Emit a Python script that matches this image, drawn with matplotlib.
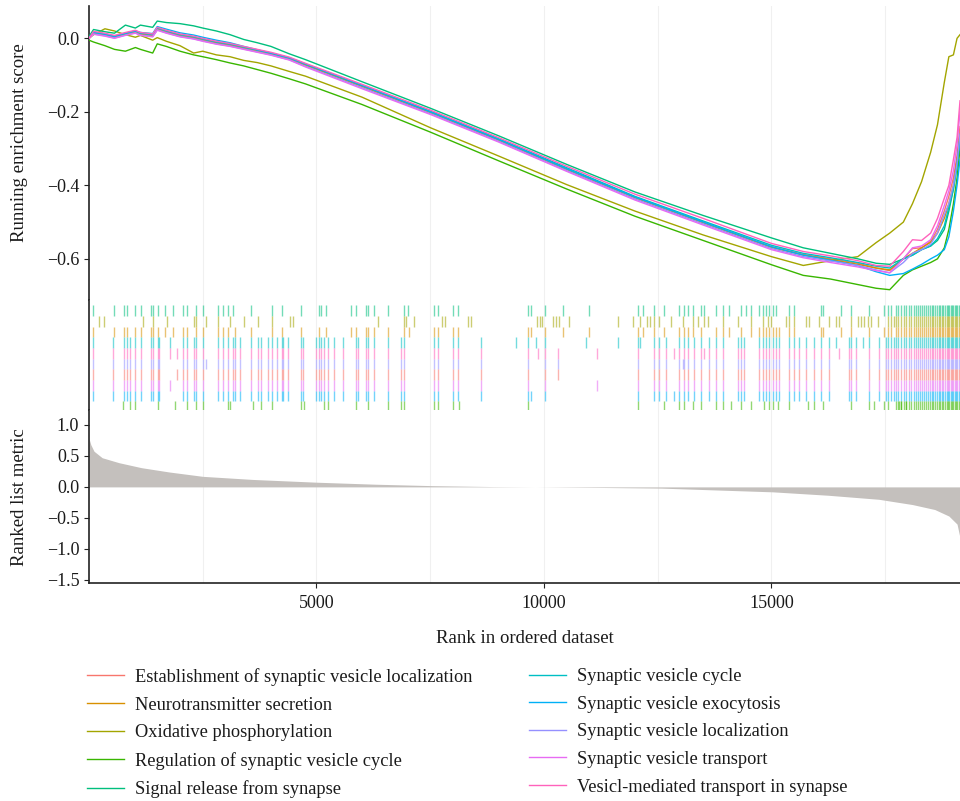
import matplotlib
matplotlib.use("Agg")
import matplotlib.pyplot as plt
from matplotlib.lines import Line2D

plt.rcParams["font.family"] = ["Liberation Serif", "DejaVu Serif"]

# gene sets (legend order) and ggplot hue colours
SET_NAMES = [
    "Establishment of synaptic vesicle localization",
    "Neurotransmitter secretion",
    "Oxidative phosphorylation",
    "Regulation of synaptic vesicle cycle",
    "Signal release from synapse",
    "Synaptic vesicle cycle",
    "Synaptic vesicle exocytosis",
    "Synaptic vesicle localization",
    "Synaptic vesicle transport",
    "Vesicl-mediated transport in synapse",
]
SET_COLORS = ["#F8766D", "#D89000", "#A3A500", "#39B600", "#00BF7D",
              "#00BFC4", "#00B0F6", "#9590FF", "#E76BF3", "#FF62BC"]

N_GENES = 19145

# running enrichment score
ES_RANKS = [0, 100, 350, 560, 800, 1020, 1130, 1400, 1500, 1700,
            2000, 2300, 2500, 2800, 3100, 3400, 3700, 4000, 4400, 4760,
            6000, 7500, 9000, 10500, 12000, 13500, 15000, 15700, 16300, 16900,
            17300, 17600, 17900, 18100, 18300, 18500, 18650, 18800, 18900, 19000,
            19080, 19145]

es_establishment = [0.0, 0.015, 0.01, 0.004, 0.012, 0.018, 0.012, 0.008, 0.026, 0.018,
                    0.008, 0.002, -0.004, -0.012, -0.018, -0.026, -0.034, -0.042, -0.055, -0.072,
                    -0.13, -0.2, -0.275, -0.355, -0.432, -0.5, -0.567, -0.588, -0.6, -0.612,
                    -0.625, -0.632, -0.6, -0.572, -0.57, -0.552, -0.52, -0.47, -0.43, -0.38,
                    -0.32, -0.24]
es_neuro = [0.0, 0.014, 0.009, 0.003, 0.011, 0.016, 0.011, 0.006, 0.024, 0.016,
            0.006, 0.0, -0.006, -0.013, -0.02, -0.028, -0.036, -0.044, -0.057, -0.073,
            -0.131, -0.202, -0.277, -0.357, -0.434, -0.502, -0.569, -0.59, -0.602, -0.615,
            -0.625, -0.63, -0.6, -0.585, -0.57, -0.555, -0.53, -0.49, -0.45, -0.4,
            -0.33, -0.26]
es_oxphos = [0.0, 0.01, 0.026, 0.02, 0.01, 0.003, 0.008, -0.005, 0.002, -0.008,
             -0.02, -0.04, -0.035, -0.045, -0.05, -0.06, -0.066, -0.075, -0.09, -0.103,
             -0.16, -0.243, -0.32, -0.398, -0.47, -0.535, -0.594, -0.618, -0.605, -0.594,
             -0.556, -0.53, -0.5, -0.45, -0.39, -0.31, -0.235, -0.12, -0.05, -0.045,
             0.0, 0.01]
es_regulation = [-0.005, -0.01, -0.02, -0.03, -0.035, -0.025, -0.03, -0.04, -0.015, -0.022,
                 -0.035, -0.045, -0.05, -0.058, -0.067, -0.075, -0.085, -0.095, -0.11, -0.124,
                 -0.18, -0.255, -0.333, -0.41, -0.484, -0.55, -0.616, -0.645, -0.655, -0.67,
                 -0.68, -0.684, -0.645, -0.63, -0.62, -0.61, -0.6, -0.57, -0.52, -0.45,
                 -0.38, -0.3]
es_release = [0.005, 0.024, 0.018, 0.014, 0.036, 0.028, 0.036, 0.03, 0.047, 0.043,
              0.04, 0.034, 0.028, 0.02, 0.01, -0.003, -0.012, -0.022, -0.042, -0.058,
              -0.118, -0.19, -0.265, -0.343, -0.418, -0.482, -0.543, -0.57, -0.585, -0.6,
              -0.612, -0.615, -0.6, -0.59, -0.575, -0.565, -0.55, -0.52, -0.47, -0.41,
              -0.34, -0.27]
es_cycle = [0.0, 0.017, 0.012, 0.006, 0.014, 0.02, 0.014, 0.01, 0.028, 0.02,
            0.01, 0.004, -0.002, -0.01, -0.016, -0.024, -0.032, -0.04, -0.053, -0.07,
            -0.128, -0.198, -0.273, -0.352, -0.43, -0.497, -0.563, -0.585, -0.597, -0.61,
            -0.62, -0.625, -0.6, -0.59, -0.575, -0.565, -0.545, -0.51, -0.46, -0.41,
            -0.35, -0.28]
es_exocytosis = [0.0, 0.016, 0.011, 0.005, 0.014, 0.02, 0.016, 0.013, 0.032, 0.025,
                 0.015, 0.009, 0.003, -0.005, -0.012, -0.022, -0.031, -0.04, -0.053, -0.07,
                 -0.128, -0.2, -0.275, -0.355, -0.432, -0.5, -0.567, -0.59, -0.604, -0.618,
                 -0.635, -0.645, -0.64, -0.628, -0.615, -0.6, -0.59, -0.575, -0.54, -0.47,
                 -0.4, -0.33]
es_localization = [0.0, 0.012, 0.007, 0.001, 0.009, 0.015, 0.009, 0.005, 0.023, 0.015,
                   0.005, -0.001, -0.007, -0.015, -0.021, -0.029, -0.037, -0.045, -0.058, -0.076,
                   -0.134, -0.205, -0.28, -0.36, -0.437, -0.505, -0.572, -0.594, -0.606, -0.618,
                   -0.63, -0.638, -0.61, -0.585, -0.575, -0.56, -0.53, -0.48, -0.45, -0.4,
                   -0.34, -0.26]
es_transport = [0.0, 0.011, 0.006, 0.0, 0.008, 0.014, 0.008, 0.004, 0.022, 0.014,
                0.004, -0.002, -0.008, -0.016, -0.022, -0.03, -0.038, -0.046, -0.059, -0.078,
                -0.137, -0.207, -0.282, -0.362, -0.44, -0.508, -0.575, -0.597, -0.61, -0.622,
                -0.632, -0.638, -0.6, -0.57, -0.565, -0.548, -0.51, -0.455, -0.415, -0.36,
                -0.29, -0.2]
es_vesicl = [0.0, 0.019, 0.014, 0.008, 0.016, 0.022, 0.016, 0.012, 0.03, 0.022,
             0.012, 0.006, 0.0, -0.008, -0.014, -0.022, -0.03, -0.038, -0.051, -0.068,
             -0.125, -0.195, -0.27, -0.348, -0.424, -0.49, -0.558, -0.58, -0.592, -0.605,
             -0.618, -0.62, -0.58, -0.548, -0.55, -0.53, -0.49, -0.435, -0.4, -0.33,
             -0.27, -0.17]

ES_VALUES = [es_establishment, es_neuro, es_oxphos, es_regulation, es_release,
             es_cycle, es_exocytosis, es_localization, es_transport, es_vesicl]

# ranked list metric
METRIC_RANK = [0, 40, 110, 290, 660, 1150, 1765, 2500, 3600, 5020, 6300, 7540, 8890,
               9800, 11350, 12580, 13800, 15030, 16250, 17360, 18100, 18590, 18900,
               19080, 19145]
METRIC_VAL = [0.78, 0.68, 0.575, 0.47, 0.39, 0.31, 0.24, 0.17, 0.12, 0.075, 0.043, 0.02,
              0.005, 0.0, -0.01, -0.02, -0.05, -0.08, -0.135, -0.2, -0.285, -0.365,
              -0.47, -0.6, -0.82]

# gene positions of each set (rug)
DENSE_TAIL = [17730, 17790, 17850, 17905, 17960, 18020, 18070, 18125, 18170, 18220,
              18265, 18310, 18350, 18395, 18440, 18480, 18520, 18560, 18600, 18640,
              18675, 18710, 18745, 18780, 18815, 18850, 18880, 18910, 18940, 18970,
              19000, 19030, 19060, 19090, 19120, 19140]
RELEASE_HITS = [77, 560, 780, 846, 1022, 1132, 1352, 1396, 1506, 1681, 1857, 2077, 2165,
                2341, 2495, 2825, 2956, 3066, 3176, 3550, 4033, 4253, 4649, 5045, 5089,
                5199, 5748, 5858, 6078, 6122, 6254, 6583, 6913, 7001, 7573, 7682, 7990,
                8100, 9639, 9705, 10034, 10408, 11001, 12078, 12188, 12408, 12628, 12958,
                13068, 13156, 13266, 13442, 13508, 13772, 13926, 14058, 14321, 14431,
                14541, 14717, 14805, 14871, 14937, 15024, 15090, 15376, 15486, 16079,
                16123, 16519, 16739, 17135, 17465, 17553, 17619]
NEURO_HITS = [77, 560, 780, 846, 1022, 1132, 1352, 1396, 1506, 1681, 1857, 2077, 2165,
              2341, 2495, 2825, 2956, 3066, 3220, 3550, 4033, 4253, 4649, 5045, 5199,
              5748, 5858, 6078, 6122, 6254, 6583, 6913, 7023, 7573, 7682, 7990, 8100,
              9639, 9705, 10034, 10408, 11001, 12078, 12188, 12408, 12628, 12958, 13068,
              13156, 13266, 13442, 13772, 13926, 14058, 14321, 14541, 14717, 14805,
              14871, 14937, 15024, 15090, 15156, 15376, 15486, 16079, 16123, 16519,
              16739, 17135, 17465, 17553, 17619]
OXPHOS_HITS = [209, 319, 1176, 1396, 1725, 2297, 2341, 2561, 2846, 3110, 3396, 3704,
               4033, 4429, 4495, 6342, 6913, 6957, 7133, 7770, 7836, 8320, 8386, 9858,
               9924, 9968, 10188, 10254, 10320, 10540, 11617, 11968, 12122, 12276, 12342,
               12408, 12518, 12782, 13046, 13266, 13376, 13508, 13596, 13926, 14255,
               14541, 14805, 14915, 14980, 15310, 15376, 15486, 15750, 15816, 16035,
               16255, 16409, 16475, 16739, 16893, 16959, 17025, 17113, 17179, 17333,
               17553, 17619, 17685]
REGULATION_HITS = [758, 912, 1022, 1506, 1901, 2165, 2341, 2495, 3066, 3110, 3594, 3770,
                   4033, 4649, 4715, 5155, 5243, 5858, 6122, 6583, 6847, 6913, 7573,
                   7682, 7990, 8122, 9639, 12078, 12628, 12958, 13068, 13266, 13442,
                   13772, 13926, 14102, 14321, 14541, 14827, 14937, 15024, 15134, 15376,
                   15794, 15926, 16123, 16739, 17135, 17245, 17465, 17553, 17795, 17839,
                   17949]
SYNAPTIC_HITS = [77, 538, 780, 846, 912, 1022, 1132, 1352, 1396, 1506, 1528, 2077, 2165,
                 2297, 2341, 2495, 2825, 2956, 3066, 3176, 3220, 3330, 3550, 3704, 3770,
                 3924, 4033, 4143, 4253, 4275, 4385, 4649, 4693, 4979, 5045, 5089, 5155,
                 5243, 5375, 5594, 5858, 5902, 6078, 6122, 6254, 6583, 6847, 6913, 7573,
                 7682, 7990, 8100, 8606, 9639, 10034, 12078, 12408, 12518, 12672, 12958,
                 13068, 13156, 13288, 13442, 13618, 13772, 13926, 14255, 14321, 14387,
                 14717, 14805, 14871, 14937, 15024, 15090, 15156, 15376, 15486, 15596,
                 15750, 15926, 16079, 16255, 16695, 16739, 16849, 17135, 17355, 17509,
                 17553, 17619, 17685]
CYCLE_EXTRA = [1791, 9375, 9815, 10914, 11617, 12122, 16409, 17003]
VESICL_EXTRA = [1791, 1945, 9880, 10298, 11177, 12848, 13508, 16475]
ESTABLISH_EXTRA = [1945, 10298]
TRANSPORT_EXTRA = [1791, 11177]
LOCALIZATION_EXTRA = [2561, 10298, 13046]
EXOCYTOSIS_EXTRA = [9705, 12848]

# rug rows from top to bottom: (set index, hits)
RUG_ROWS = [
    (4, RELEASE_HITS + DENSE_TAIL),
    (2, OXPHOS_HITS + DENSE_TAIL),
    (1, NEURO_HITS + DENSE_TAIL),
    (5, SYNAPTIC_HITS + CYCLE_EXTRA + DENSE_TAIL),
    (9, SYNAPTIC_HITS + VESICL_EXTRA + DENSE_TAIL),
    (7, SYNAPTIC_HITS + LOCALIZATION_EXTRA + DENSE_TAIL),
    (0, SYNAPTIC_HITS + ESTABLISH_EXTRA + DENSE_TAIL),
    (8, SYNAPTIC_HITS + TRANSPORT_EXTRA + DENSE_TAIL),
    (6, SYNAPTIC_HITS + EXOCYTOSIS_EXTRA + DENSE_TAIL),
    (3, REGULATION_HITS + DENSE_TAIL),
]

W, H = 960, 801
TEXT = "#1a1a1a"
GRID = "#F0F0F0"
AXIS = "#222222"


def frac(left, top, right, bottom):
    return [left / W, 1 - bottom / H, (right - left) / W, (bottom - top) / H]


fig = plt.figure(figsize=(W / 100, H / 100), dpi=100)
ax_es = fig.add_axes(frac(89, 6, 960, 300))
ax_rug = fig.add_axes(frac(89, 300, 960, 410))
ax_rank = fig.add_axes(frac(89, 410, 960, 583))

for ax in (ax_es, ax_rug, ax_rank):
    ax.set_xlim(0, N_GENES)
    for x in range(2500, N_GENES, 2500):
        ax.axvline(x, color=GRID, lw=0.8, zorder=0)
    for s in ("top", "right", "bottom"):
        ax.spines[s].set_visible(False)
    ax.spines["left"].set_color(AXIS)
    ax.spines["left"].set_linewidth(1.2)
    ax.tick_params(colors=AXIS, labelcolor=TEXT, labelsize=13, length=3.5, width=0.8)
    ax.set_xticks([])

# running ES
for name, color, vals in zip(SET_NAMES, SET_COLORS, ES_VALUES):
    ax_es.plot(ES_RANKS, vals, color=color, lw=1.0, label=name, zorder=3)
ax_es.set_ylim(-0.712, 0.088)
ax_es.set_yticks([0.0, -0.2, -0.4, -0.6])
ax_es.set_yticklabels(["0.0", "\u22120.2", "\u22120.4", "\u22120.6"])

# rug
n_rows = len(RUG_ROWS)
for i, (idx, hits) in enumerate(RUG_ROWS):
    top = n_rows - i
    ax_rug.vlines(hits, top - 1, top, color=SET_COLORS[idx], lw=1.0, alpha=0.55)
ax_rug.set_ylim(0.2, 10.5)
ax_rug.set_yticks([])

# ranked list metric
ax_rank.fill_between(METRIC_RANK, METRIC_VAL, 0, color="#C4C0BD", lw=0, zorder=2)
ax_rank.set_ylim(-1.55, 1.24)
ax_rank.set_yticks([1.0, 0.5, 0.0, -0.5, -1.0, -1.5])
ax_rank.set_yticklabels(["1.0", "0.5", "0.0", "\u22120.5", "\u22121.0", "\u22121.5"])
ax_rank.spines["bottom"].set_visible(True)
ax_rank.spines["bottom"].set_color(AXIS)
ax_rank.spines["bottom"].set_linewidth(1.2)
ax_rank.set_xticks([5000, 10000, 15000])
ax_rank.tick_params(axis="x", pad=5)
ax_rank.set_xlabel("Rank in ordered dataset", fontsize=13.5, color=TEXT, labelpad=13)

fig.text(20 / W, 1 - 143 / H, "Running enrichment score", rotation=90,
         ha="center", va="center", fontsize=13.5, color=TEXT)
fig.text(20 / W, 1 - 497 / H, "Ranked list metric", rotation=90,
         ha="center", va="center", fontsize=13.5, color=TEXT)

# legend in two columns
handles = [Line2D([], [], color=c, lw=1.0) for c in SET_COLORS]
leg_kw = dict(frameon=False, fontsize=13.2, handlelength=2.0, handletextpad=0.6,
              labelspacing=0.58, borderpad=0, borderaxespad=0, loc="upper left",
              labelcolor=TEXT)
fig.legend(handles[:5], SET_NAMES[:5], bbox_to_anchor=(87 / W, 1 - 668 / H), **leg_kw)
fig.legend(handles[5:], SET_NAMES[5:], bbox_to_anchor=(529 / W, 1 - 668 / H), **leg_kw)

fig.savefig("out.png", dpi=100)
